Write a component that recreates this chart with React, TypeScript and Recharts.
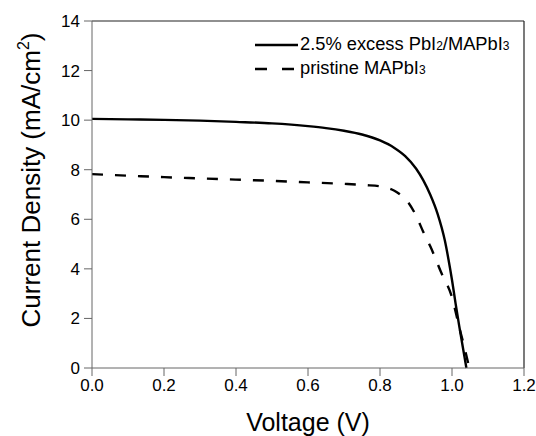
import React from "react";
import { LineChart, Line, XAxis, YAxis, Label, ReferenceLine } from "recharts";

const voltageTicks = [0, 0.2, 0.4, 0.6, 0.8, 1.0, 1.2];
const currentTicks = [0, 2, 4, 6, 8, 10, 12, 14];

const excessV = [0, 0.1, 0.2, 0.3, 0.4, 0.5, 0.6, 0.65, 0.7, 0.75, 0.8, 0.84, 0.87, 0.9, 0.92, 0.94, 0.96, 0.98, 0.99, 1.0, 1.01, 1.02, 1.03, 1.04];
const excessJ = [10.05, 10.03, 10.01, 9.98, 9.93, 9.87, 9.76, 9.68, 9.57, 9.42, 9.18, 8.88, 8.55, 8.05, 7.58, 6.98, 6.22, 5.15, 4.4, 3.55, 2.6, 1.7, 0.85, 0.0];

const pristineV = [0, 0.1, 0.2, 0.3, 0.4, 0.5, 0.6, 0.7, 0.76, 0.8, 0.84, 0.86, 0.88, 0.9, 0.92, 0.94, 0.97, 1.0, 1.02, 1.035, 1.048];
const pristineJ = [7.82, 7.76, 7.7, 7.65, 7.6, 7.55, 7.49, 7.43, 7.38, 7.33, 7.15, 6.95, 6.65, 6.15, 5.5, 4.9, 3.85, 2.85, 1.65, 0.8, 0.0];

const excessData = excessV.map((v, i) => ({ v, j: excessJ[i] }));
const pristineData = pristineV.map((v, i) => ({ v, j: pristineJ[i] }));

const FONT = "Arial, 'Liberation Sans', sans-serif";

const LegendBox = () => (
  <div style={{ position: "absolute", left: 255, top: 33, fontFamily: FONT, fontSize: 18.3, color: "#000", lineHeight: "24px" }}>
    <div style={{ display: "flex", alignItems: "center", height: 24 }}>
      <svg width={45} height={10}><line x1={0} y1={5} x2={43} y2={5} stroke="#000" strokeWidth={2.4} /></svg>
      <span>2.5% excess PbI<span style={{ fontSize: 12 }}>2</span>/MAPbI<span style={{ fontSize: 12 }}>3</span></span>
    </div>
    <div style={{ display: "flex", alignItems: "center", height: 24 }}>
      <svg width={45} height={10}><line x1={0} y1={5} x2={43} y2={5} stroke="#000" strokeWidth={2.4} strokeDasharray="12 15" /></svg>
      <span>pristine MAPbI<span style={{ fontSize: 12 }}>3</span></span>
    </div>
  </div>
);

const YLabel = () => (
  <text transform="translate(40,180) rotate(-90)" textAnchor="middle" fontFamily={FONT} fontSize={26} fill="#000">
    Current Density (mA/cm<tspan fontSize={16} dy={-11}>2</tspan><tspan dy={11}>)</tspan>
  </text>
);

const XLabel = () => (
  <text x={308} y={431} textAnchor="middle" fontFamily={FONT} fontSize={25} fill="#000">
    Voltage (V)
  </text>
);

export default function App() {
  return (
    <div style={{ position: "absolute", left: 0, top: 0, width: 536, height: 436, background: "#fff" }}>
      <LineChart width={536} height={436} margin={{ top: 21, right: 12, bottom: 0, left: 0 }}>
        <XAxis
          dataKey="v"
          type="number"
          domain={[0, 1.2]}
          ticks={voltageTicks}
          tickFormatter={(t: number) => t.toFixed(1)}
          allowDuplicatedCategory={false}
          stroke="#666"
          tickSize={8}
          tickMargin={3}
          tick={{ fill: "#000", fontSize: 17, fontFamily: FONT }}
          height={68}
        >
          <Label content={<XLabel />} />
        </XAxis>
        <YAxis
          type="number"
          domain={[0, 14]}
          ticks={currentTicks}
          stroke="#666"
          tickSize={8}
          tickMargin={4}
          tick={{ fill: "#000", fontSize: 17, fontFamily: FONT }}
          width={92}
        >
          <Label content={<YLabel />} />
        </YAxis>
        <ReferenceLine y={14} stroke="#222" strokeWidth={1.2} />
        <ReferenceLine x={1.2} stroke="#222" strokeWidth={1.2} />
        <Line data={excessData} dataKey="j" type="monotone" stroke="#000" strokeWidth={2.4} dot={false} isAnimationActive={false} />
        <Line data={pristineData} dataKey="j" type="monotone" stroke="#000" strokeWidth={2.4} strokeDasharray="11 12" dot={false} isAnimationActive={false} />
      </LineChart>
      <LegendBox />
    </div>
  );
}
